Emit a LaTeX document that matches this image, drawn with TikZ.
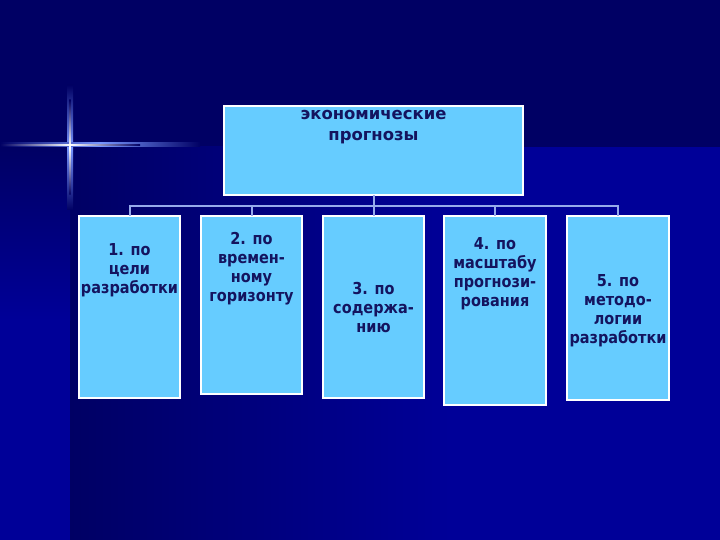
\documentclass[tikz,border=0pt]{standalone}
\usepackage{fontspec}
\setmainfont{DejaVu Sans}[FakeStretch=0.88]
\newfontfamily\topfont{DejaVu Sans}
\definecolor{bgdark}{RGB}{0,0,100}
\definecolor{bgbright}{RGB}{0,0,152}
\definecolor{boxfill}{RGB}{102,204,255}
\definecolor{txt}{RGB}{20,20,95}
\definecolor{conncol}{RGB}{150,170,235}
\definecolor{glow}{RGB}{120,150,255}
\tikzset{
  box/.style={draw=white, line width=2bp, fill=boxfill, inner sep=0pt, outer sep=0pt},
  lbl/.style={text=txt, align=center, inner sep=0pt, font=\fontsize{16.5}{19}\selectfont\bfseries},
  toplbl/.style={lbl, font=\topfont\fontsize{16.5}{22}\selectfont\bfseries},
  conn/.style={draw=conncol, line width=2bp}
}
\begin{document}
\begin{tikzpicture}[x=1bp, y=-1bp]
\useasboundingbox (0,0) rectangle (720,540);
% background
\fill[bgdark] (0,0) rectangle (720,540);
\shade[left color=bgdark, right color=bgbright] (70,147) rectangle (450,540);
\fill[bgbright] (449.5,147) rectangle (720,540);
\shade[top color=bgdark, bottom color=bgbright] (0,147) rectangle (70,320);
\fill[bgbright] (0,319.5) rectangle (70,540);
% star flare
\shade[top color=bgdark, bottom color=bgdark, middle color=glow] (67,85) rectangle (73,210);
\shade[left color=bgdark, right color=bgdark, middle color=glow] (0,143) rectangle (200,147);
\shade[top color=bgdark, bottom color=bgdark, middle color=white] (69.3,100) rectangle (70.7,195);
\shade[left color=bgdark, right color=bgdark, middle color=white] (0,144.3) rectangle (140,145.7);
% boxes
\node[box, minimum width=299bp, minimum height=89bp] (top) at (373.5,150.5) {};
\node[box, minimum width=101bp, minimum height=182bp] (b1) at (129.5,307) {};
\node[box, minimum width=101bp, minimum height=178bp] (b2) at (251.5,305) {};
\node[box, minimum width=101bp, minimum height=182bp] (b3) at (373.5,307) {};
\node[box, minimum width=102bp, minimum height=189bp] (b4) at (495,310.5) {};
\node[box, minimum width=102bp, minimum height=184bp] (b5) at (618,308) {};
% connectors
\coordinate (bus) at (373.5,206);
\draw[conn] (top.south) -- (bus);
\foreach \b in {b1,b2,b3,b4,b5} { \draw[conn] (\b.north) |- (bus); }
% labels (base anchor = baseline of last line)
\node[toplbl, anchor=base] (ttop) at (373.5,141) {экономические\\прогнозы};
\node[lbl, anchor=base] (t1) at (129.5,293) {1. по\\цели\\разработки};
\node[lbl, anchor=base] (t2) at (251.5,301) {2. по\\времен-\\ному\\горизонту};
\node[lbl, anchor=base] (t3) at (373.5,332) {3. по\\содержа-\\нию};
\node[lbl, anchor=base] (t4) at (495,306) {4. по\\масштабу\\прогнози-\\рования};
\node[lbl, anchor=base] (t5) at (618,343) {5. по\\методо-\\логии\\разработки};
\end{tikzpicture}
\end{document}
